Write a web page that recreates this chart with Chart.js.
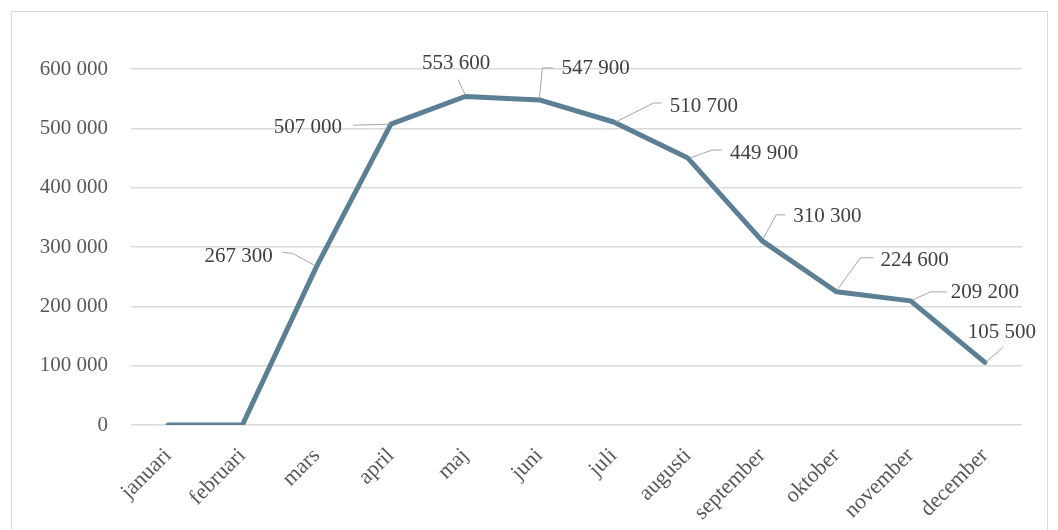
<!DOCTYPE html>
<html>
<head>
<meta charset="utf-8">
<script src="https://cdn.jsdelivr.net/npm/chart.js@4"></script>
<style>
  html, body { margin: 0; padding: 0; background: #ffffff; }
  #wrap { position: relative; width: 1058px; height: 530px; }
</style>
</head>
<body>
<div id="wrap"><canvas id="c"></canvas></div>
<script>
const categories = ['januari','februari','mars','april','maj','juni','juli','augusti','september','oktober','november','december'];
const values = [0, 0, 267300, 507000, 553600, 547900, 510700, 449900, 310300, 224600, 209200, 105500];
const yTicks = [0, 100000, 200000, 300000, 400000, 500000, 600000];

function fmt(v) {
  return String(Math.round(v)).replace(/\B(?=(\d{3})+(?!\d))/g, ' ');
}

const FONT = '"Liberation Serif", "Times New Roman", serif';
const TEXT = '#595959';

// label placement (relative to each point, in px): text anchor, alignment, leader polyline
const labelLayout = [
  null,
  null,
  { tx: -44, ty: -10, align: 'right', leader: [[-2,-1],[-24,-13],[-34,-14]] },
  { tx: -49, ty: 3, align: 'right', leader: [[-1,0],[-38,1]] },
  { tx: -9, ty: -33, align: 'center', leader: [[0,-2],[-7,-17]] },
  { tx: 22, ty: -31, align: 'left', leader: [[0,-2],[3,-32],[14,-32]] },
  { tx: 56, ty: -16, align: 'left', leader: [[2,0],[40,-19],[48,-19]] },
  { tx: 42, ty: -5, align: 'left', leader: [[2,0],[24,-8],[34,-8]] },
  { tx: 31, ty: -24, align: 'left', leader: [[1,-2],[14,-26],[23,-26]] },
  { tx: 44, ty: -31, align: 'left', leader: [[1,-2],[24,-34],[37,-34]] },
  { tx: 40, ty: -8, align: 'left', leader: [[2,-1],[20,-9],[36,-9]] },
  { tx: 17, ty: -30, align: 'center', leader: [[2,-1],[18,-15]] }
];

const frame = {
  id: 'frame',
  beforeDraw(chart) {
    const ctx = chart.ctx;
    ctx.save();
    ctx.fillStyle = '#ffffff';
    ctx.fillRect(0, 0, chart.width, chart.height);
    ctx.strokeStyle = '#d9d9d9';
    ctx.lineWidth = 1;
    ctx.strokeRect(11.5, 11.5, 1036, 540);
    ctx.restore();
  }
};

const dataLabels = {
  id: 'dataLabels',
  afterDatasetsDraw(chart) {
    const ctx = chart.ctx;
    const meta = chart.getDatasetMeta(0);
    ctx.save();
    ctx.font = '21px ' + FONT;
    ctx.textBaseline = 'middle';
    meta.data.forEach((pt, i) => {
      const L = labelLayout[i];
      if (!L) return;
      ctx.strokeStyle = '#a6a6a6';
      ctx.lineWidth = 1;
      ctx.beginPath();
      L.leader.forEach((p, k) => {
        const x = pt.x + p[0], y = pt.y + p[1];
        if (k === 0) ctx.moveTo(x, y); else ctx.lineTo(x, y);
      });
      ctx.stroke();
      ctx.fillStyle = '#404040';
      ctx.textAlign = L.align;
      ctx.fillText(fmt(values[i]), pt.x + L.tx, pt.y + L.ty);
    });
    ctx.restore();
  }
};

new Chart(document.getElementById('c'), {
  type: 'line',
  data: {
    labels: categories,
    datasets: [{
      data: values,
      borderColor: '#5b7f95',
      borderWidth: 5,
      borderCapStyle: 'round',
      borderJoinStyle: 'round',
      pointRadius: 0,
      tension: 0,
      fill: false
    }]
  },
  options: {
    responsive: true,
    maintainAspectRatio: false,
    animation: false,
    layout: { padding: { top: 69, right: 36, bottom: 0, left: 0 } },
    plugins: { legend: { display: false }, tooltip: { enabled: false }, title: { display: false } },
    scales: {
      x: {
        offset: true,
        grid: { display: false },
        border: { display: false },
        ticks: {
          autoSkip: false,
          maxRotation: 45,
          minRotation: 45,
          padding: 10,
          labelOffset: 0,
          color: TEXT,
          font: { family: FONT, size: 22 }
        },
        afterFit(axis) { axis.height = 105; }
      },
      y: {
        min: 0,
        max: 600000,
        afterBuildTicks(axis) { axis.ticks = yTicks.map(v => ({ value: v })); },
        grid: { color: '#d9d9d9', lineWidth: 1.5, drawTicks: false },
        border: { display: false },
        ticks: {
          padding: 23,
          color: TEXT,
          font: { family: FONT, size: 21 },
          callback: (v) => fmt(v)
        },
        afterFit(axis) { axis.width = 131; }
      }
    }
  },
  plugins: [frame, dataLabels]
});
</script>
</body>
</html>
